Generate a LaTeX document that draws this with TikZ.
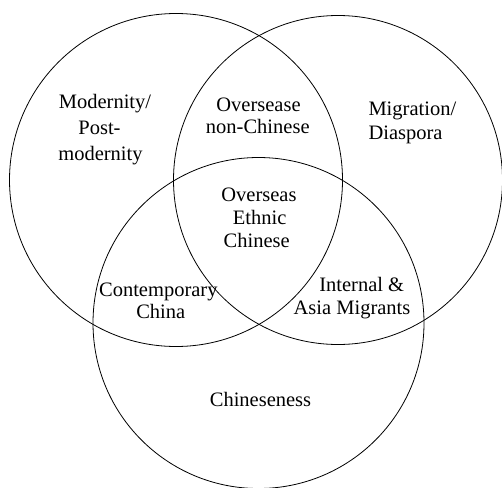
\documentclass[tikz,border=0pt]{standalone}
\usepackage{fontspec}
\setmainfont{Liberation Serif}
\begin{document}
\begin{tikzpicture}[x=1pt,y=-1pt,
  ring/.style={draw=black,line width=0.8pt},
  lbl/.style={anchor=base,inner sep=0pt,font=\fontsize{20.5}{24}\selectfont},
  lbll/.style={anchor=base west,inner sep=0pt,font=\fontsize{20.5}{24}\selectfont}]
\useasboundingbox (0,0) rectangle (502,487);
\node[ring,circle,minimum size=333pt,inner sep=0pt] (cl) at (176,180) {};
\node[ring,circle,minimum size=329pt,inner sep=0pt] (cr) at (338,180) {};
\node[ring,circle,minimum size=331pt,inner sep=0pt] (cb) at (258.5,323) {};
\node[lbl] (m1) at (105,108) {Modernity/};
\node[lbl] (m2) at (99.5,134) {Post-};
\node[lbl] (m3) at (100.5,160) {modernity};
\node[lbl] (o1) at (258.5,111.7) {Oversease};
\node[lbl] (o2) at (257.8,133.3) {non-Chinese};
\node[lbll] (g1) at (368.3,115.7) {Migration/};
\node[lbll] (g2) at (368.3,139.3) {Diaspora};
\node[lbl] (e1) at (259,201.7) {Overseas};
\node[lbl] (e2) at (259.7,224.3) {Ethnic};
\node[lbl] (e3) at (256.7,247.7) {Chinese};
\node[lbl] (c1) at (158.3,296) {Contemporary};
\node[lbl] (c2) at (160.8,318.3) {China};
\node[lbl] (i1) at (361.7,291) {Internal \&};
\node[lbl] (i2) at (352,314.3) {Asia Migrants};
\node[lbl] (ch) at (260.5,406) {Chineseness};
\end{tikzpicture}
\end{document}
